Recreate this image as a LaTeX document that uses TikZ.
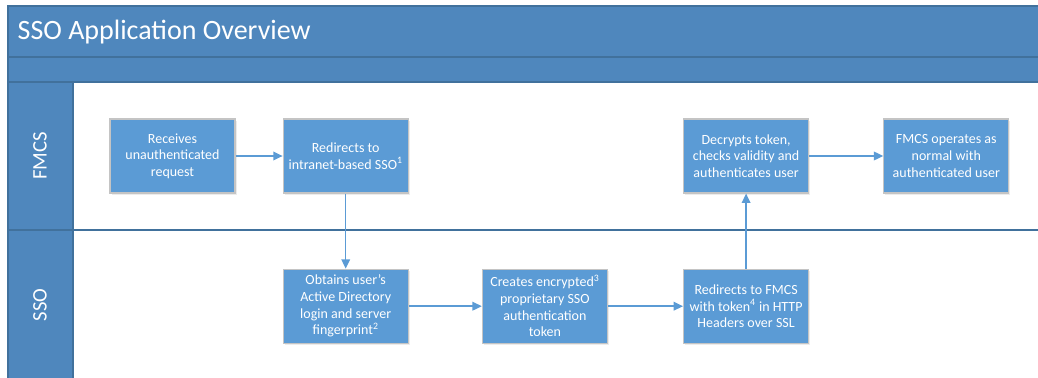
\documentclass[tikz,border=0pt]{standalone}
\usepackage{fontspec}
\setmainfont{Carlito}
\usepackage{xcolor}
\definecolor{laneBlue}{HTML}{4F87BD}
\definecolor{laneDark}{HTML}{41719C}
\definecolor{stepBlue}{HTML}{5B9BD5}
\definecolor{stepEdge}{HTML}{C4C4C4}
\usepackage{tikz}
\usetikzlibrary{positioning,arrows.meta,shadows}
\tikzset{
  stepBox/.style={
    rectangle,
    draw=stepEdge,
    line width=0.9pt,
    fill=stepBlue,
    text=white,
    minimum width=93.75pt,
    minimum height=55.5pt,
    inner sep=0pt,
    align=center,
    font=\fontsize{10.5}{12.5}\selectfont,
    drop shadow={opacity=0.15, shadow xshift=1.2pt, shadow yshift=-1.2pt}
 },
  laneBand/.style={
    draw=laneDark,
    fill=laneBlue,
    line width=0.8pt
 },
  laneLabel/.style={
    text=white,
    rotate=90,
    font=\fontsize{15.5}{18}\selectfont
 },
  arrowLine/.style={
    -{Triangle[length=7pt,width=6.5pt]},
    line width=1.1pt,
    color=stepBlue
 }
}

\begin{document}
\begin{tikzpicture}[x=0.75pt,y=-0.75pt]
            \useasboundingbox (0,0) rectangle (1038,378);

            % pool header and lanes
            \draw[laneBand] (8,6) rectangle (1045,57);
            \draw[laneBand] (8,57) rectangle (1045,82);
            \draw[laneBand] (8,82) rectangle (73,385);
            \draw[laneDark, line width=1pt] (8,230) -- (1045,230);

            \node[anchor=west, text=white, font=\fontsize{21}{25}\selectfont] (title) at (13,32) {SSO Application Overview};
            \node[laneLabel] (fmcsLane) at (40,156) {FMCS};
            \node[laneLabel] (ssoLane) at (40,305) {SSO};

            \node[stepBox] (receive) at (172.5,156) {Receives\\unauthenticated\\request};
            \node[stepBox, right=35.25pt of receive] (redirect) {Redirects to\\intranet-based SSO\textsuperscript{1}};
            \draw[arrowLine] (receive) -- (redirect);

            \node[stepBox, below=56.25pt of redirect] (obtain) {Obtains user's\\Active Directory\\login and server\\fingerprint\textsuperscript{2}};
            \draw[arrowLine] (redirect) -- (obtain);

            \node[stepBox, right=54.75pt of obtain] (create) {Creates encrypted\textsuperscript{3}\\proprietary SSO\\authentication\\token};
            \draw[arrowLine] (obtain) -- (create);

            \node[stepBox, right=56.25pt of create] (sendBack) {Redirects to FMCS\\with token\textsuperscript{4} in HTTP\\Headers over SSL};
            \draw[arrowLine] (create) -- (sendBack);

            \node[stepBox, above=56.25pt of sendBack] (decrypt) {Decrypts token,\\checks validity and\\authenticates user};
            \draw[arrowLine] (sendBack) -- (decrypt);

            \node[stepBox, right=55.5pt of decrypt] (operate) {FMCS operates as\\normal with\\authenticated user};
            \draw[arrowLine] (decrypt) -- (operate);

        \end{tikzpicture}
\end{document}
